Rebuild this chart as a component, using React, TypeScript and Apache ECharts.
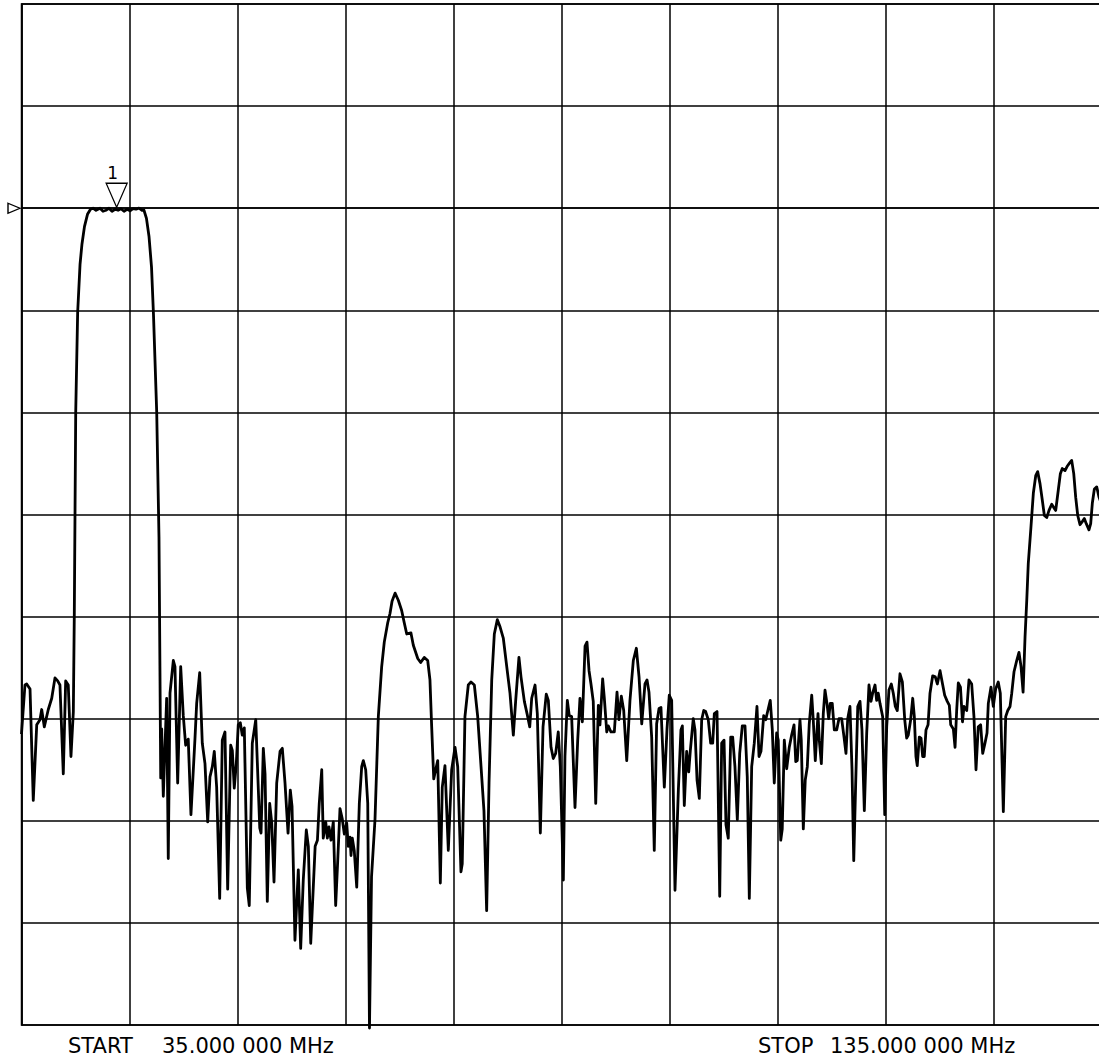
import React, { useEffect, useRef } from "react";
import * as echarts from "echarts";

// Sweep: START 35 MHz, STOP 135 MHz, 10 dB/div, reference 0 dB at 8th division
const startLabel = "START";
const startValue = "35.000 000 MHz";
const stopLabel = "STOP";
const stopValue = "135.000 000 MHz";

const freqStart = 35;
const freqStop = 135;
const levelMin = -80;
const levelMax = 20;
const levelStep = 10;
const refLevel = 0;

const marker1 = { name: "1", freq: 43.81, level: 0 };

const freqMHz = [
  35.0, 35.32, 35.48, 35.79, 36.09, 36.41, 36.71, 36.87, 37.11, 37.48, 37.8, 38.1, 38.35, 38.56, 38.87, 39.09, 39.33, 39.58, 39.8, 39.89,
  40.02, 40.2, 40.42, 40.6, 40.83, 41.11, 41.39, 41.62, 41.9, 42.27, 42.55, 42.82, 43.1, 43.38, 43.66, 43.94, 44.21, 44.49, 44.77, 45.05,
  45.32, 45.6, 45.88, 46.16, 46.34, 46.57, 46.81, 47.04, 47.22, 47.52, 47.73, 47.82, 47.89, 47.98, 48.13, 48.44, 48.59, 48.75, 49.06, 49.21,
  49.46, 49.74, 49.98, 50.2, 50.44, 50.69, 51.06, 51.22, 51.5, 51.74, 51.99, 52.24, 52.45, 52.67, 52.85, 53.07, 53.35, 53.59, 53.84, 54.09,
  54.37, 54.52, 54.7, 54.89, 55.07, 55.26, 55.44, 55.63, 55.91, 56.09, 56.37, 56.69, 57.06, 57.18, 57.39, 57.55, 57.76, 57.98, 58.17, 58.38,
  58.63, 58.94, 59.15, 59.4, 59.68, 59.89, 60.05, 60.32, 60.63, 60.85, 61.09, 61.37, 61.56, 61.78, 62.19, 62.4, 62.57, 62.8, 62.94, 63.17,
  63.32, 63.47, 63.66, 63.87, 64.09, 64.28, 64.49, 64.7, 64.89, 65.11, 65.26, 65.42, 65.51, 65.63, 65.81, 66.04, 66.28, 66.5, 66.65, 66.87,
  67.06, 67.22, 67.41, 67.73, 68.04, 68.35, 68.59, 68.91, 69.12, 69.31, 69.59, 69.89, 70.2, 70.44, 70.67, 71.06, 71.28, 71.69, 71.96, 72.3,
  72.61, 72.82, 72.98, 73.17, 73.35, 73.54, 73.78, 73.96, 74.21, 74.52, 74.83, 75.14, 75.39, 75.69, 75.81, 76.06, 76.37, 76.62, 76.93, 77.24,
  77.55, 77.82, 78.07, 78.29, 78.54, 78.78, 79.06, 79.31, 79.61, 79.93, 80.23, 80.54, 80.76, 81.06, 81.25, 81.56, 81.81, 82.06, 82.24, 82.55,
  82.76, 83.04, 83.29, 83.59, 83.78, 84.03, 84.24, 84.46, 84.7, 84.89, 85.17, 85.32, 85.54, 85.72, 85.94, 86.25, 86.5, 86.71, 86.93, 87.18,
  87.36, 87.55, 87.73, 87.94, 88.17, 88.41, 88.56, 88.81, 88.96, 89.19, 89.33, 89.58, 89.89, 90.14, 90.32, 90.54, 90.76, 91.04, 91.34, 91.65,
  91.93, 92.18, 92.43, 92.73, 92.92, 93.1, 93.35, 93.59, 93.81, 94.03, 94.21, 94.52, 94.77, 94.98, 95.2, 95.51, 95.82, 96.06, 96.19, 96.37,
  96.59, 96.78, 96.93, 97.2, 97.36, 97.55, 97.76, 97.98, 98.17, 98.35, 98.59, 98.81, 99.0, 99.15, 99.4, 99.65, 99.83, 100.05, 100.23, 100.44,
  100.67, 100.85, 101.06, 101.28, 101.5, 101.74, 101.99, 102.2, 102.39, 102.61, 102.85, 103.1, 103.29, 103.47, 103.72, 103.91, 104.15, 104.33, 104.52, 104.7,
  104.92, 105.07, 105.3, 105.44, 105.63, 105.85, 106.09, 106.31, 106.53, 106.69, 106.83, 107.08, 107.2, 107.39, 107.57, 107.76, 107.94, 108.17, 108.31, 108.5,
  108.75, 108.87, 109.06, 109.24, 109.4, 109.58, 109.74, 109.89, 110.07, 110.26, 110.48, 110.69, 110.94, 111.16, 111.34, 111.5, 111.71, 111.9, 112.06, 112.24,
  112.43, 112.64, 112.82, 113.04, 113.26, 113.47, 113.66, 113.81, 114.03, 114.18, 114.33, 114.49, 114.74, 114.93, 115.11, 115.32, 115.54, 115.72, 115.91, 116.09,
  116.34, 116.56, 116.78, 116.96, 117.11, 117.33, 117.52, 117.67, 117.82, 117.94, 118.13, 118.29, 118.44, 118.59, 118.75, 118.94, 119.12, 119.37, 119.61, 119.8,
  120.05, 120.3, 120.48, 120.72, 120.91, 121.04, 121.28, 121.44, 121.59, 121.74, 121.94, 122.13, 122.27, 122.52, 122.73, 122.98, 123.19, 123.38, 123.59, 123.81,
  124.0, 124.21, 124.4, 124.52, 124.77, 124.98, 125.2, 125.44, 125.63, 125.91, 126.13, 126.32, 126.53, 126.69, 126.9, 127.15, 127.36, 127.55, 127.74, 127.92,
  128.08, 128.22, 128.47, 128.69, 128.91, 129.09, 129.31, 129.52, 129.71, 129.93, 130.14, 130.39, 130.57, 130.76, 131.0, 131.19, 131.37, 131.62, 131.81, 132.02,
  132.24, 132.43, 132.61, 132.8, 133.01, 133.22, 133.41, 133.59, 133.84, 134.0, 134.15, 134.34, 134.56, 134.77, 135.0,
];

const levelDb = [
  -51.5, -46.7, -46.6, -47.1, -58.0, -50.6, -50.1, -49.1, -50.8, -49.1, -48.0, -46.0, -46.3, -46.7, -55.4, -46.3, -46.7, -53.7, -49.3, -39.7,
  -20.0, -10.2, -5.5, -3.5, -1.8, -0.6, -0.1, 0.0, -0.2, 0.0, -0.3, -0.2, 0.0, -0.3, -0.1, -0.2, -0.05, -0.3, -0.1, -0.25,
  -0.05, -0.1, 0.0, -0.2, -0.2, -1.0, -2.8, -5.8, -10.4, -20.0, -32.2, -45.3, -55.8, -51.0, -57.6, -48.0, -63.7, -47.5, -44.3, -44.9,
  -56.3, -44.9, -49.7, -52.6, -52.0, -59.4, -52.0, -48.5, -45.5, -52.4, -54.4, -60.1, -55.7, -54.7, -53.2, -56.7, -67.6, -52.1, -51.3, -66.7,
  -52.6, -53.1, -56.8, -54.4, -50.6, -50.4, -51.6, -50.9, -66.6, -68.3, -52.4, -50.1, -60.7, -61.2, -52.9, -55.4, -67.9, -58.3, -60.2, -66.0,
  -56.3, -53.2, -52.9, -56.3, -61.2, -57.0, -58.6, -71.7, -64.8, -72.5, -65.8, -60.9, -62.5, -72.0, -62.5, -61.9, -58.3, -55.0, -61.7, -60.1,
  -61.7, -60.6, -61.9, -60.1, -68.3, -63.9, -58.8, -59.8, -61.3, -60.2, -62.5, -61.6, -63.4, -61.7, -62.9, -66.5, -58.3, -54.7, -54.1, -55.0,
  -58.3, -80.3, -65.5, -59.9, -49.8, -44.9, -42.5, -40.6, -39.7, -38.5, -37.7, -38.4, -39.4, -40.6, -41.7, -41.6, -42.8, -44.1, -44.5, -44.0,
  -44.3, -46.2, -50.8, -55.9, -55.0, -54.1, -66.1, -56.7, -54.6, -62.9, -55.0, -52.8, -54.7, -65.0, -64.2, -49.8, -46.7, -46.4, -46.7, -49.8,
  -54.7, -59.0, -68.8, -56.3, -46.2, -41.7, -40.3, -41.0, -42.1, -44.9, -47.5, -51.6, -48.2, -44.0, -45.9, -48.3, -49.5, -50.8, -48.0, -46.7,
  -49.5, -61.2, -50.8, -47.6, -48.2, -52.8, -53.9, -53.4, -51.3, -54.7, -65.8, -53.7, -48.2, -49.7, -49.8, -58.7, -52.1, -48.0, -50.3, -42.9,
  -42.5, -45.3, -46.6, -48.3, -58.3, -48.7, -50.6, -46.1, -47.9, -51.3, -50.7, -51.3, -51.3, -47.4, -50.1, -47.8, -49.2, -54.1, -48.2, -44.3,
  -43.1, -45.9, -50.5, -46.6, -46.2, -47.4, -51.8, -62.9, -50.5, -49.0, -48.9, -56.7, -51.0, -47.7, -48.2, -66.8, -57.0, -51.1, -50.7, -58.5,
  -53.2, -55.2, -53.1, -50.0, -51.1, -56.0, -57.8, -50.1, -49.2, -49.3, -50.1, -52.4, -52.4, -49.5, -49.3, -67.4, -52.4, -52.1, -60.4, -61.7,
  -51.8, -51.8, -54.7, -59.9, -53.4, -50.7, -50.7, -55.7, -67.6, -54.7, -52.4, -48.8, -53.7, -53.2, -49.7, -50.1, -49.0, -48.2, -51.1, -56.3,
  -51.4, -52.1, -61.9, -60.8, -52.1, -54.9, -52.8, -51.6, -50.6, -54.2, -54.1, -50.1, -52.1, -60.8, -56.0, -54.7, -50.5, -47.7, -50.1, -54.1,
  -49.5, -52.1, -54.4, -49.5, -47.2, -48.5, -50.0, -48.5, -48.5, -51.1, -51.1, -50.0, -50.0, -51.8, -53.4, -50.0, -48.8, -55.0, -63.9, -56.3,
  -48.8, -48.3, -51.1, -59.0, -51.4, -46.7, -48.3, -47.5, -46.7, -48.2, -47.5, -48.5, -49.8, -59.4, -50.8, -47.2, -46.6, -47.5, -48.8, -49.2,
  -45.6, -46.4, -50.1, -51.9, -51.6, -50.1, -48.0, -49.8, -53.7, -54.6, -51.8, -51.9, -53.7, -53.7, -51.1, -50.6, -47.5, -45.8, -45.9, -46.6,
  -45.3, -46.7, -47.7, -48.3, -48.7, -50.6, -51.0, -52.8, -49.2, -46.5, -46.9, -50.3, -48.8, -49.2, -46.2, -46.6, -49.8, -55.0, -50.8, -50.6,
  -53.4, -52.4, -51.4, -48.5, -46.9, -48.8, -47.1, -46.4, -47.5, -59.1, -49.8, -49.2, -48.8, -47.5, -45.4, -44.3, -43.5, -44.9, -47.4, -42.0,
  -38.4, -34.8, -31.2, -27.9, -26.2, -25.8, -27.0, -28.6, -30.1, -30.3, -29.6, -29.0, -29.3, -29.6, -27.6, -26.0, -25.5, -25.7, -25.3, -25.0,
  -24.7, -26.0, -28.3, -30.1, -31.0, -30.7, -30.4, -30.9, -31.5, -30.9, -28.9, -27.5, -27.3, -28.3, -29.0,
];

const FONT = "DejaVu Sans";

export default function App() {
  const ref = useRef<HTMLDivElement>(null);

  useEffect(() => {
    if (!ref.current) return;
    const chart = echarts.init(ref.current, null, { renderer: "svg" });
    const n = Math.min(freqMHz.length, levelDb.length);
    const data: number[][] = [];
    for (let i = 0; i < n; i++) data.push([freqMHz[i], levelDb[i]]);

    const lineStyleGrid = { color: "#000", width: 1.5 };

    chart.setOption({
      animation: false,
      backgroundColor: "#fff",
      textStyle: { fontFamily: FONT },
      grid: {
        left: 21.5,
        top: 4,
        width: 1080,
        height: 1021,
        outerBoundsMode: "none",
        containLabel: false,
        show: true,
        borderColor: "#000",
        borderWidth: 1.5,
        backgroundColor: "transparent",
      },
      xAxis: [
        {
          type: "value",
          min: 0,
          max: 100,
          interval: 10,
          axisLabel: { show: false },
          axisTick: { show: false },
          axisLine: { show: true, lineStyle: lineStyleGrid },
          splitLine: { show: true, lineStyle: lineStyleGrid },
        },
        {
          type: "value",
          min: freqStart,
          max: freqStop,
          show: false,
          splitLine: { show: false },
        },
      ],
      yAxis: {
        type: "value",
        min: levelMin,
        max: levelMax,
        interval: levelStep,
        axisLabel: { show: false },
        axisTick: { show: false },
        axisLine: { show: true, lineStyle: lineStyleGrid },
        splitLine: { show: true, lineStyle: lineStyleGrid },
      },
      series: [
        {
          type: "line",
          xAxisIndex: 1,
          yAxisIndex: 0,
          data,
          showSymbol: false,
          symbol: "none",
          clip: false,
          lineStyle: { color: "#000", width: 2.8, join: "round" },
          markPoint: {
            silent: true,
            data: [
              {
                coord: [marker1.freq, marker1.level],
                symbol: "path://M0,0L20,0L10,24Z",
                symbolSize: [21, 24],
                symbolOffset: [0, -13],
                itemStyle: { color: "rgba(0,0,0,0)", borderColor: "#000", borderWidth: 1.3 },
                label: {
                  show: true,
                  formatter: marker1.name,
                  position: "top",
                  distance: 1,
                  offset: [-4, 0],
                  color: "#000",
                  fontSize: 17,
                  fontFamily: FONT,
                },
              },
              {
                coord: [freqStart, refLevel],
                symbol: "path://M0,0L16,5L0,10Z",
                symbolSize: [12, 10],
                symbolOffset: [-7.5, 0],
                itemStyle: { color: "rgba(0,0,0,0)", borderColor: "#000", borderWidth: 1.3 },
                label: { show: false },
              },
            ],
          },
        },
      ],
      graphic: [
        { type: "text", left: 68, top: 1035, style: { text: startLabel, fontSize: 21, fontFamily: FONT, fill: "#000" } },
        { type: "text", left: 162, top: 1035, style: { text: startValue, fontSize: 21, fontFamily: FONT, fill: "#000" } },
        { type: "text", left: 758, top: 1035, style: { text: stopLabel, fontSize: 21, fontFamily: FONT, fill: "#000" } },
        { type: "text", left: 830, top: 1035, style: { text: stopValue, fontSize: 21, fontFamily: FONT, fill: "#000" } },
      ],
    });

    return () => chart.dispose();
  }, []);

  return (
    <div
      ref={ref}
      style={{ position: "fixed", left: 0, top: 0, width: 1099, height: 1059, background: "#fff" }}
    />
  );
}
